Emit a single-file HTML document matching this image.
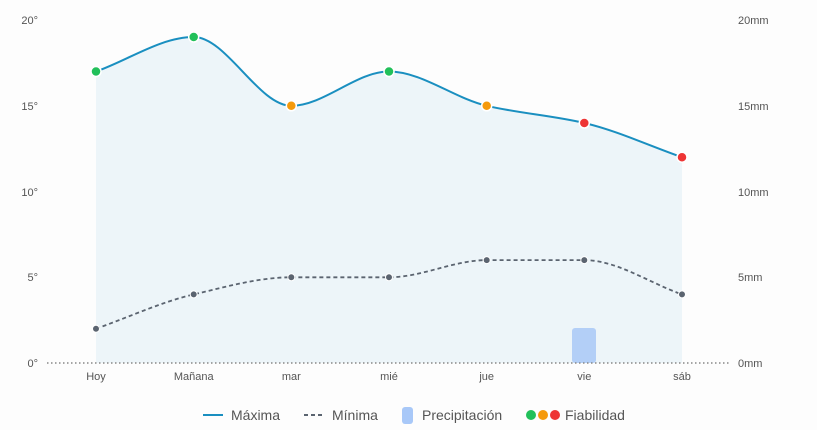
<!DOCTYPE html>
<html><head><meta charset="utf-8"><style>
html,body{margin:0;padding:0;background:#fdfdfd;}
svg{display:block;font-family:"Liberation Sans",sans-serif;}
</style></head><body>
<svg width="817" height="430" viewBox="0 0 817 430" xmlns="http://www.w3.org/2000/svg">
<rect width="817" height="430" fill="#fdfdfd"/>
<path d="M96,71.5 C128.6,60 161.1,37 193.7,37 C226.3,37 258.7,105.8 291.3,105.8 C323.9,105.8 356.4,71.5 389,71.5 C421.6,71.5 454.1,98.2 486.7,105.8 C519.3,113.4 551.7,115.4 584.3,123 C616.9,130.6 649.4,145.8 682,157.2 L682,363 L96,363 Z" fill="#eaf3f8" opacity="0.85"/>
<rect x="572" y="328" width="24" height="35" rx="3" fill="#b3cff7"/>
<line x1="47" y1="363" x2="729" y2="363" stroke="#888" stroke-width="1.5" stroke-dasharray="1.5,2.5"/>
<path d="M96,71.5 C128.6,60 161.1,37 193.7,37 C226.3,37 258.7,105.8 291.3,105.8 C323.9,105.8 356.4,71.5 389,71.5 C421.6,71.5 454.1,98.2 486.7,105.8 C519.3,113.4 551.7,115.4 584.3,123 C616.9,130.6 649.4,145.8 682,157.2" fill="none" stroke="#1a8fc0" stroke-width="2"/>
<path d="M96,328.7 C128.6,317.3 161.1,302 193.7,294.4 C226.3,286.8 258.7,277.3 291.3,277.3 L389,277.3 C421.6,277.3 454.1,260.1 486.7,260.1 L584.3,260.1 C616.9,260.1 649.4,283 682,294.4" fill="none" stroke="#5b6470" stroke-width="1.8" stroke-dasharray="4,3"/>
<g fill="#5b6470" stroke="#fff" stroke-width="1">
<circle cx="96" cy="328.7" r="3.5"/><circle cx="193.7" cy="294.4" r="3.5"/><circle cx="291.3" cy="277.3" r="3.5"/><circle cx="389" cy="277.3" r="3.5"/><circle cx="486.7" cy="260.1" r="3.5"/><circle cx="584.3" cy="260.1" r="3.5"/><circle cx="682" cy="294.4" r="3.5"/>
</g>
<g stroke="#fff" stroke-width="1.5">
<circle cx="96" cy="71.5" r="5" fill="#22c05a"/><circle cx="193.7" cy="37" r="5" fill="#22c05a"/><circle cx="291.3" cy="105.8" r="5" fill="#f59a0c"/><circle cx="389" cy="71.5" r="5" fill="#22c05a"/><circle cx="486.7" cy="105.8" r="5" fill="#f59a0c"/><circle cx="584.3" cy="123" r="5" fill="#ee3535"/><circle cx="682" cy="157.2" r="5" fill="#ee3535"/>
</g>
<g font-size="11" fill="#555" text-anchor="end">
<text x="38" y="24">20°</text><text x="38" y="110">15°</text><text x="38" y="196">10°</text><text x="38" y="281">5°</text><text x="38" y="367">0°</text>
</g>
<g font-size="11" fill="#555">
<text x="738" y="24">20mm</text><text x="738" y="110">15mm</text><text x="738" y="196">10mm</text><text x="738" y="281">5mm</text><text x="738" y="367">0mm</text>
</g>
<g font-size="11" fill="#555" text-anchor="middle">
<text x="96" y="380">Hoy</text><text x="193.7" y="380">Mañana</text><text x="291.3" y="380">mar</text><text x="389" y="380">mié</text><text x="486.7" y="380">jue</text><text x="584.3" y="380">vie</text><text x="682" y="380">sáb</text>
</g>
<g font-size="14" fill="#555">
<line x1="203" y1="415" x2="223" y2="415" stroke="#1a8fc0" stroke-width="2"/>
<text x="231" y="420">Máxima</text>
<line x1="304" y1="415" x2="324" y2="415" stroke="#5b6470" stroke-width="2" stroke-dasharray="4,3"/>
<text x="332" y="420">Mínima</text>
<rect x="402" y="407" width="11" height="17" rx="3" fill="#a8c8f8"/>
<text x="422" y="420">Precipitación</text>
<circle cx="531" cy="415" r="5" fill="#22c05a"/><circle cx="543" cy="415" r="5" fill="#f59a0c"/><circle cx="555" cy="415" r="5" fill="#ee3535"/>
<text x="565" y="420">Fiabilidad</text>
</g>
</svg>
</body></html>
